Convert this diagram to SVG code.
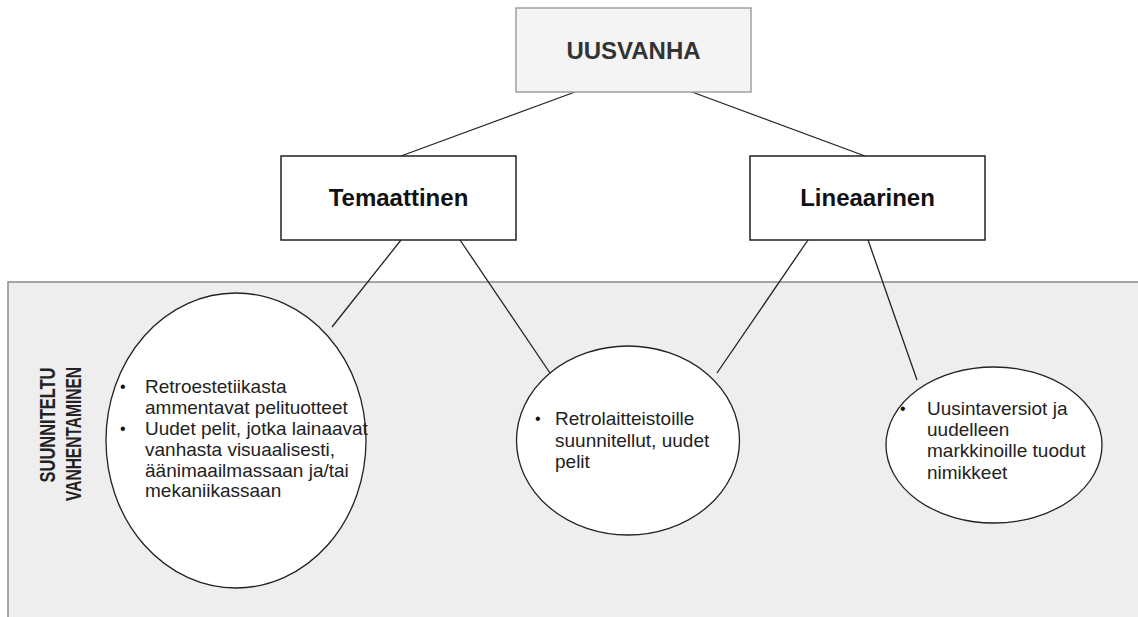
<svg xmlns="http://www.w3.org/2000/svg" width="1138" height="617" viewBox="0 0 1138 617">
<style>
.box{fill:#ffffff;stroke:#222;stroke-width:1.5}
.root{fill:#f4f4f4;stroke:#a0a0a0;stroke-width:1.5}
.ell{fill:#ffffff;stroke:#222;stroke-width:1.3}
.con{stroke:#222;stroke-width:1.3;fill:none}
.title{font-family:"Liberation Sans",Arial,sans-serif;font-weight:bold;font-size:24px;text-anchor:middle}
.body{font-family:"Liberation Sans",Arial,sans-serif;font-size:19px;fill:#222}
.bul{font-family:"Liberation Sans",Arial,sans-serif;font-size:16px;fill:#111}
.side{font-family:"Liberation Sans",Arial,sans-serif;font-weight:bold;font-size:22px;fill:#222;text-anchor:middle}
</style>
<rect x="0" y="0" width="1138" height="617" fill="#ffffff"/>
<g id="panel">
<rect x="8" y="282" width="1140" height="350" fill="#eeeeee" stroke="#8a8a8a" stroke-width="1.5"/>
<text class="side" transform="translate(55,425) rotate(-90)" textLength="115" lengthAdjust="spacingAndGlyphs">SUUNNITELTU</text>
<text class="side" transform="translate(81,434) rotate(-90)" textLength="134" lengthAdjust="spacingAndGlyphs">VANHENTAMINEN</text>
</g>
<g id="connectors">
<line class="con" x1="575" y1="92" x2="401" y2="156"/>
<line class="con" x1="692" y1="92" x2="865" y2="156"/>
<line class="con" x1="401" y1="240" x2="332" y2="327"/>
<line class="con" x1="460" y1="240" x2="550" y2="373"/>
<line class="con" x1="808" y1="240" x2="717" y2="373"/>
<line class="con" x1="868" y1="240" x2="917" y2="380"/>
</g>
<g id="uusvanha">
<rect class="root" x="516" y="8" width="235" height="84"/>
<text class="title" x="633.5" y="59" fill="#333">UUSVANHA</text>
</g>
<g id="temaattinen">
<rect class="box" x="281" y="156" width="235" height="84"/>
<text class="title" x="398.5" y="206" fill="#111">Temaattinen</text>
</g>
<g id="lineaarinen">
<rect class="box" x="750" y="156" width="235" height="84"/>
<text class="title" x="867.5" y="206" fill="#111">Lineaarinen</text>
</g>
<g id="ellipse-left">
<ellipse class="ell" cx="236" cy="440.5" rx="130" ry="147.5"/>
<text class="bul" x="120" y="392">•</text>
<text class="bul" x="120" y="434">•</text>
<text class="body"><tspan x="145" y="393">Retroestetiikasta</tspan><tspan x="145" y="414">ammentavat pelituotteet</tspan><tspan x="145" y="435">Uudet pelit, jotka lainaavat</tspan><tspan x="145" y="456">vanhasta visuaalisesti,</tspan><tspan x="145" y="477">äänimaailmassaan ja/tai</tspan><tspan x="145" y="497">mekaniikassaan</tspan></text>
</g>
<g id="ellipse-middle">
<ellipse class="ell" cx="628" cy="440.5" rx="111.5" ry="94.5"/>
<text class="bul" x="535" y="424">•</text>
<text class="body"><tspan x="555" y="425">Retrolaitteistoille</tspan><tspan x="555" y="447">suunnitellut, uudet</tspan><tspan x="555" y="468">pelit</tspan></text>
</g>
<g id="ellipse-right">
<ellipse class="ell" cx="994" cy="445" rx="108" ry="78"/>
<text class="bul" x="900" y="414">•</text>
<text class="body"><tspan x="927" y="415">Uusintaversiot ja</tspan><tspan x="927" y="436">uudelleen</tspan><tspan x="927" y="457">markkinoille tuodut</tspan><tspan x="927" y="479">nimikkeet</tspan></text>
</g>
</svg>
